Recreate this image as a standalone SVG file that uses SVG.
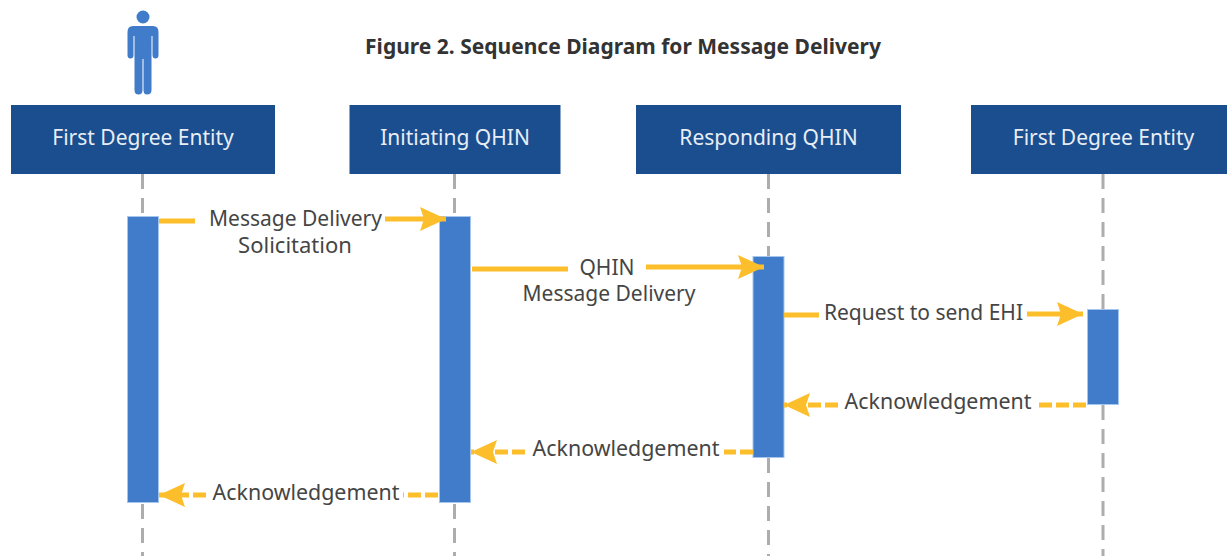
<svg xmlns="http://www.w3.org/2000/svg" width="1227" height="560" viewBox="0 0 1227 560">
<style>
.hdr{fill:#1a4e8f}
.act{fill:#407cc9;stroke:#a5c5ec;stroke-width:1}
.life{stroke:#adadad;stroke-width:3;stroke-dasharray:15 9;fill:none}
.msg{stroke:#fdbe2b;stroke-width:5;fill:none}
.dash{stroke-dasharray:13 4}
text{font-family:"Noto Sans","Open Sans",sans-serif}
.ht{fill:#e8edf5;font-size:21px;text-anchor:middle}
.lb{fill:#454545;font-size:21px;text-anchor:middle}
.ak{font-size:21.4px}
.ttl{fill:#333;font-size:21px;font-weight:700;text-anchor:middle}
</style>
<defs>
<marker id="ah" markerUnits="userSpaceOnUse" viewBox="-26 -13 27 26" refX="0" refY="0" markerWidth="27" markerHeight="26" orient="auto">
<path d="M-26,-12 L0,0 L-26,12 L-22,0 Z" fill="#fdbe2b"/>
</marker>
</defs>
<rect width="1227" height="560" fill="#fff"/>
<text class="ttl" x="623" y="54">Figure 2. Sequence Diagram for Message Delivery</text>
<g id="lifelines">
<path class="life" d="M142.5,174V216M142.5,504V556"/>
<path class="life" d="M454.5,174V216M454.5,504V556"/>
<path class="life" d="M768.5,174V256M768.5,458V556"/>
<path class="life" d="M1103,174V309M1103,405V556"/>
</g>
<g id="actor">
<circle cx="143" cy="17" r="6.5" fill="#407cc9"/>
<path fill="#407cc9" d="M133,26H153Q158.500,26 158.500,32V55Q158.500,58.500 155.500,58.500Q152.500,58.500 152.500,55V36H151.500V90Q151.500,94.500 147,94.500Q143.500,94.500 143.500,90V59H142.500V90Q142.500,94.500 138.500,94.500Q134.500,94.500 134.500,90V36H133.500V55Q133.500,58.500 130.500,58.500Q127.500,58.500 127.500,55V32Q127.500,26 133,26Z"/>
</g>
<g id="node-first-degree-entity-left">
<rect class="hdr" x="11" y="105" width="264" height="69"/>
<text class="ht" x="143" y="145">First Degree Entity</text>
</g>
<g id="node-initiating-qhin">
<rect class="hdr" x="349.500" y="105" width="211" height="69"/>
<text class="ht" x="455" y="145">Initiating QHIN</text>
</g>
<g id="node-responding-qhin">
<rect class="hdr" x="636" y="105" width="265" height="69"/>
<text class="ht" x="768.500" y="145">Responding QHIN</text>
</g>
<g id="node-first-degree-entity-right">
<rect class="hdr" x="971" y="105" width="256" height="69"/>
<text class="ht" x="1103.500" y="145">First Degree Entity</text>
</g>
<g id="activations">
<rect class="act" x="127.500" y="216.500" width="31" height="286"/>
<rect class="act" x="439.500" y="216.500" width="31" height="286"/>
<rect class="act" x="753" y="256.500" width="31" height="201"/>
<rect class="act" x="1087.500" y="309.500" width="31" height="95"/>
</g>
<g id="connectors">
<path class="msg" d="M159,221H195"/>
<path class="msg" d="M385,219H446" marker-end="url(#ah)"/>
<path class="msg" d="M472,269H568"/>
<path class="msg" d="M646,267H764" marker-end="url(#ah)"/>
<path class="msg" d="M784,315H819"/>
<path class="msg" d="M1027,314H1083" marker-end="url(#ah)"/>
<path class="msg dash" d="M1086,405H1036"/>
<path class="msg dash" d="M838,405H784" marker-end="url(#ah)"/>
<path class="msg dash" d="M753,452H724"/>
<path class="msg dash" d="M525,452H471" marker-end="url(#ah)"/>
<path class="msg dash" d="M438,495H403"/>
<path class="msg dash" d="M206,495H159" marker-end="url(#ah)"/>
</g>
<g id="labels">
<text class="lb" x="295.500" y="226">Message Delivery</text>
<text class="lb" x="295" y="253" style="font-size:22px">Solicitation</text>
<text class="lb" x="607" y="275">QHIN</text>
<text class="lb" x="609" y="301">Message Delivery</text>
<text class="lb" x="923.500" y="320">Request to send EHI</text>
<text class="lb ak" x="938" y="409">Acknowledgement</text>
<text class="lb ak" x="626" y="456">Acknowledgement</text>
<text class="lb ak" x="306" y="500">Acknowledgement</text>
</g>
</svg>
